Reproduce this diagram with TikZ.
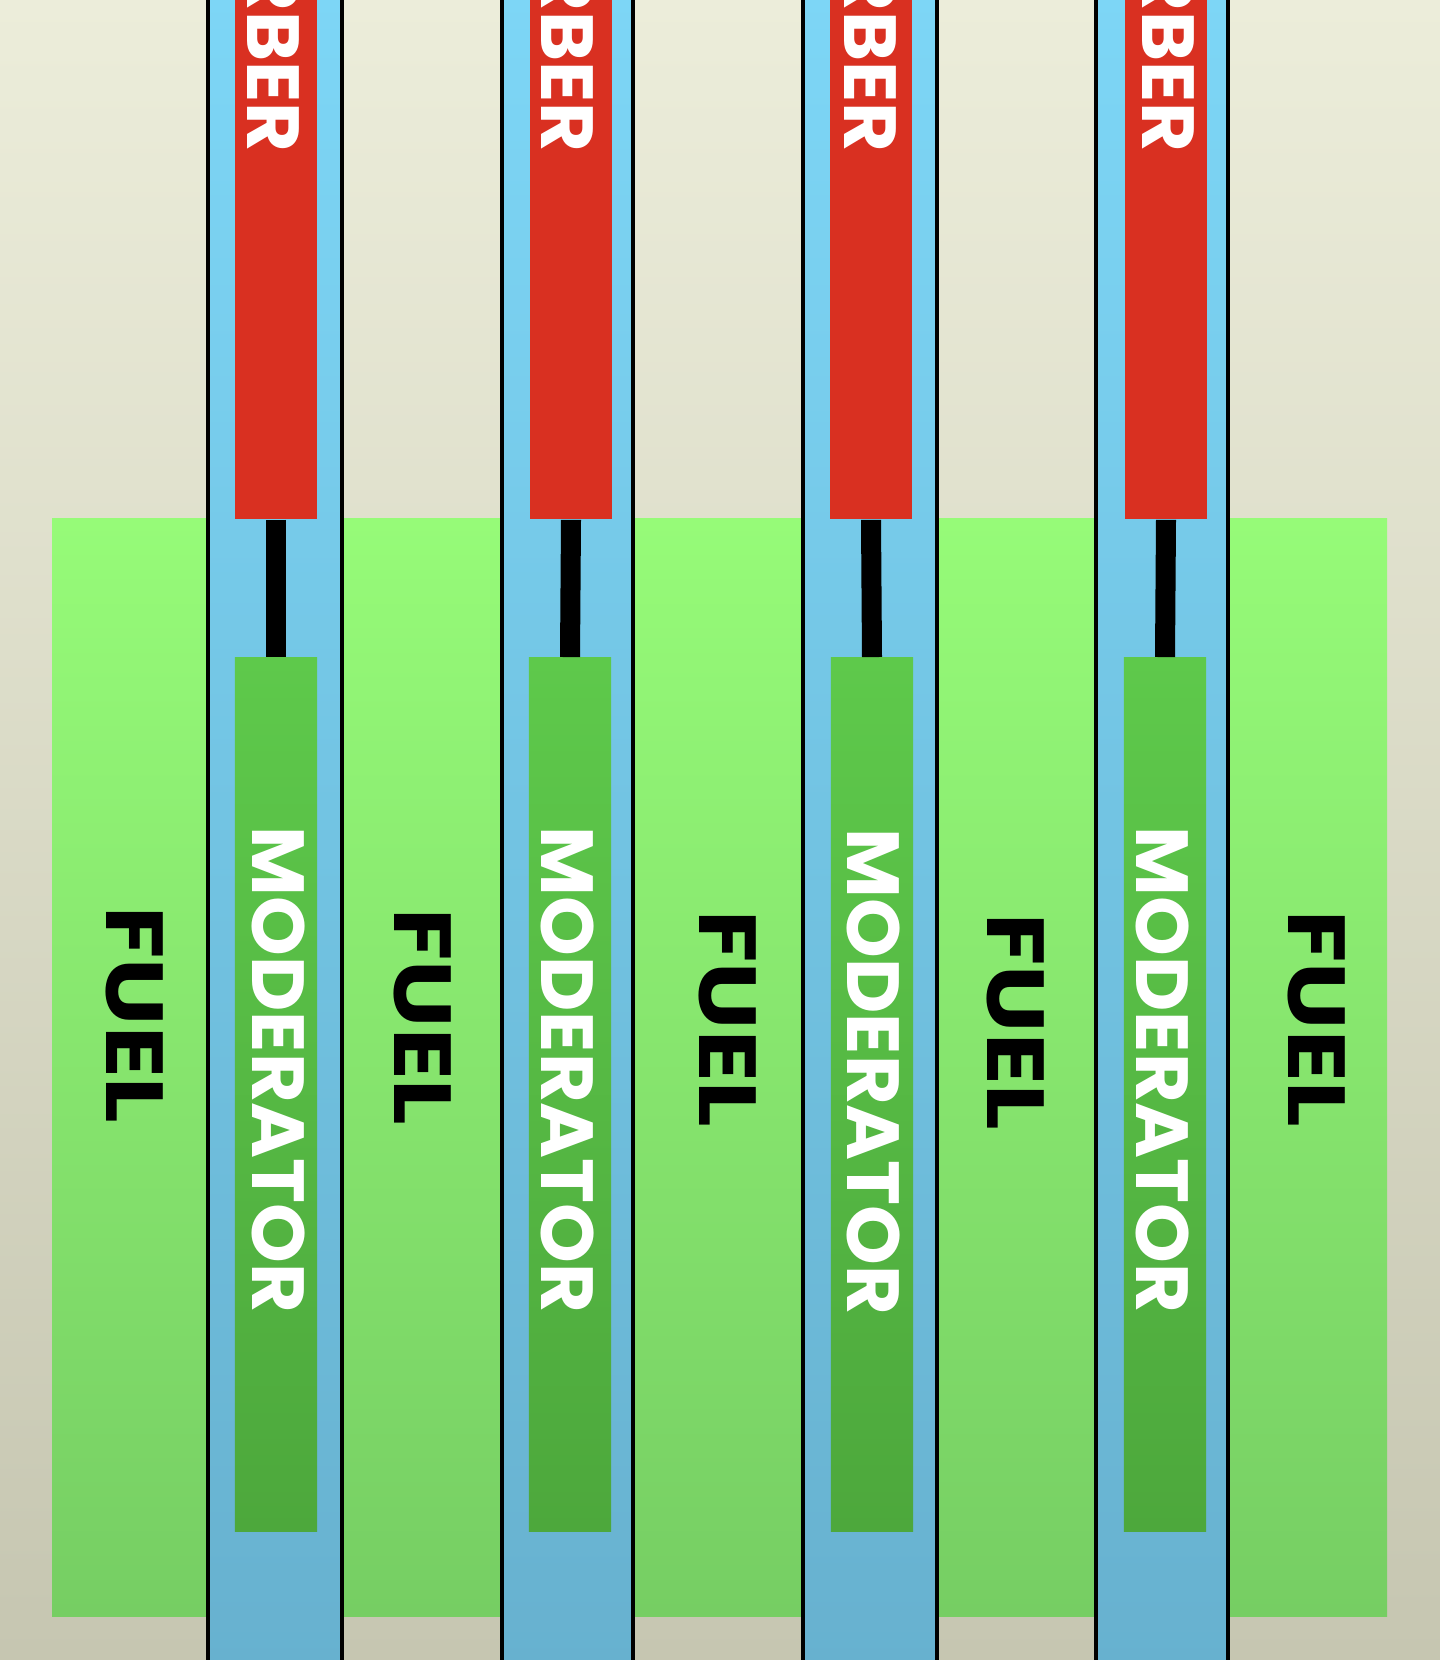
\documentclass[tikz,border=0pt]{standalone}
\usepackage{fontspec}
\setmainfont{Poppins}
\newfontfamily\fuelfont{Poppins}[FakeStretch=1.18]
\newfontfamily\modfont{Poppins}[FakeStretch=1.03]
\usetikzlibrary{positioning}
\definecolor{paper}{HTML}{ECEDDA}
\definecolor{papershade}{HTML}{C6C6B1}
\definecolor{water}{HTML}{7DD6F6}
\definecolor{watershade}{HTML}{67B1CF}
\definecolor{fuelhi}{HTML}{96FB78}
\definecolor{fuello}{HTML}{76CE63}
\definecolor{modhi}{HTML}{5EC94B}
\definecolor{modlo}{HTML}{4DA83C}
\definecolor{absorb}{HTML}{D93021}

\begin{document}
\begin{tikzpicture}[x=0.01cm,y=-0.01cm,
  fuelbar/.style={top color=fuelhi,bottom color=fuello},
  channel/.style={top color=water,bottom color=watershade,draw=black,line width=1.1pt},
  absbar/.style={fill=absorb,inner sep=0,minimum width=0.82cm,minimum height=5.59cm},
  modbar/.style={top color=modhi,bottom color=modlo,inner sep=0,minimum width=0.82cm,minimum height=8.73cm},
  rod/.style={line width=0.2cm},
  fueltxt/.style={font=\fuelfont\fontsize{23}{23}\selectfont\bfseries,rotate=-90,inner sep=0},
  modtxt/.style={font=\modfont\fontsize{21}{21}\selectfont\bfseries,text=white,rotate=-90,inner sep=0}
]
  \useasboundingbox (0,0) rectangle (1440,1660);
  \clip (0,0) rectangle (1440,1660);
  \fill[top color=paper,bottom color=papershade] (0,0) rectangle (1440,1660);

  % fuel blocks
  \path[fuelbar] (52,518)   rectangle (208,1616);
  \path[fuelbar] (342,518)  rectangle (502,1616);
  \path[fuelbar] (633,518)  rectangle (803,1616);
  \path[fuelbar] (937,518)  rectangle (1096,1616);
  \path[fuelbar] (1228,518) rectangle (1387,1616);
  \node[fueltxt] (fuel1) at (135,1015)  {FUEL};
  \node[fueltxt] (fuel2) at (423,1017)  {FUEL};
  \node[fueltxt] (fuel3) at (728,1019)  {FUEL};
  \node[fueltxt] (fuel4) at (1016,1022) {FUEL};
  \node[fueltxt] (fuel5) at (1317,1019) {FUEL};

  % channels
  \path[channel] (208,-10)  rectangle (342,1670);
  \path[channel] (502,-10)  rectangle (633,1670);
  \path[channel] (803,-10)  rectangle (937,1670);
  \path[channel] (1096,-10) rectangle (1228,1670);

  % absorbers and moderators
  \node[absbar] (abs1) at (276,239.5)  {};
  \node[absbar] (abs2) at (571,239.5)  {};
  \node[absbar] (abs3) at (871,239.5)  {};
  \node[absbar] (abs4) at (1166,239.5) {};
  \node[modbar] (mod1) at (276,1094.5)  {};
  \node[modbar] (mod2) at (570,1094.5)  {};
  \node[modbar] (mod3) at (872,1094.5)  {};
  \node[modbar] (mod4) at (1165,1094.5) {};
  \draw[rod] (abs1.south) -- (mod1.north);
  \draw[rod] (abs2.south) -- (mod2.north);
  \draw[rod] (abs3.south) -- (mod3.north);
  \draw[rod] (abs4.south) -- (mod4.north);

  \node[modtxt,anchor=east] (abstxt1) at (274,153)   {ABSORBER};
  \node[modtxt,anchor=east] (abstxt2) at (568,153)   {ABSORBER};
  \node[modtxt,anchor=east] (abstxt3) at (871,153)   {ABSORBER};
  \node[modtxt,anchor=east] (abstxt4) at (1169,153)  {ABSORBER};
  \node[modtxt] (modtxt1) at (279,1070)  {MODERATOR};
  \node[modtxt] (modtxt2) at (568,1070)  {MODERATOR};
  \node[modtxt] (modtxt3) at (874,1072)  {MODERATOR};
  \node[modtxt] (modtxt4) at (1163,1070) {MODERATOR};
\end{tikzpicture}
\end{document}
